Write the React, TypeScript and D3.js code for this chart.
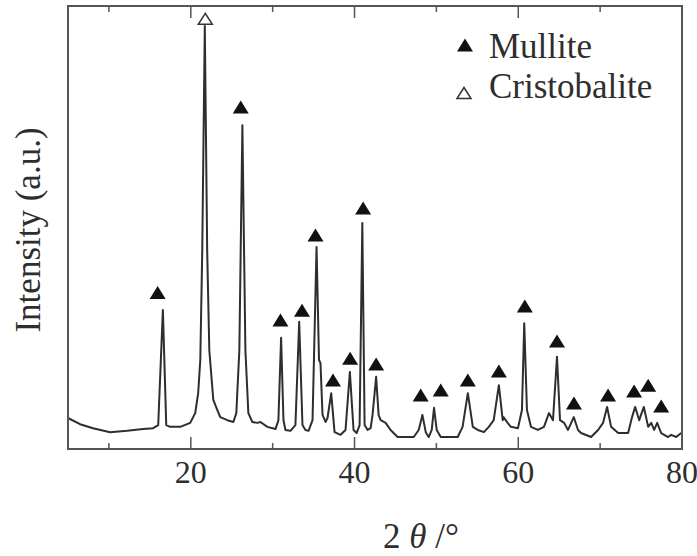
import React from "react";
import * as d3 from "d3";

// 2θ (degrees) of the pattern's vertices
const twoTheta = [
  5.0, 6.47, 8.06, 10.14, 12.22, 14.18, 15.4, 16.02, 16.59, 17.0, 17.48, 18.71, 19.93,
  20.54, 20.9, 21.16, 21.4, 21.71, 22.0, 22.26, 22.75, 23.24, 23.6, 24.46, 25.2, 25.56,
  25.93, 26.3, 26.67, 27.03, 27.52, 28.13, 28.5, 29.36, 30.34, 30.7, 31.03, 31.32, 31.56,
  32.17, 32.78, 33.24, 33.64, 34.0, 34.38, 34.87, 35.36, 35.66, 35.84, 36.09, 36.46, 36.7,
  37.15, 37.56, 38.29, 38.9, 39.43, 39.88, 40.25, 40.62, 40.95, 41.23, 41.6, 41.97, 42.2,
  42.64, 42.94, 43.19, 43.8, 44.4, 45.27, 47.23, 47.84, 48.29, 48.7, 49.06, 49.43, 49.71,
  50.04, 50.53, 52.6, 53.2, 53.84, 54.45, 55.06, 55.8, 56.4, 57.0, 57.63, 58.1, 58.2, 58.7,
  59.1, 59.96, 60.45, 60.73, 61.06, 61.55, 62.4, 63.14, 63.75, 64.24, 64.73, 65.1, 65.6,
  66.08, 66.78, 67.3, 67.67, 68.89, 69.75, 70.36, 70.85, 71.34, 72.2, 73.42, 73.9, 74.28,
  74.77, 75.34, 75.87, 76.24, 76.6, 76.97, 77.46, 78.3, 78.68, 79.3, 79.9,
];
// intensity (a.u.) at each vertex
const intensity = [
  70, 56, 47, 38, 41, 45, 47, 54, 314, 54, 50, 50, 59,
  81, 126, 201, 449, 955, 449, 223, 111, 88, 72, 65, 61, 81,
  223, 731, 223, 81, 61, 59, 61, 50, 45, 65, 251, 65, 43,
  41, 54, 287, 54, 43, 41, 65, 456, 201, 194, 77, 61, 70,
  126, 38, 32, 43, 174, 43, 36, 54, 510, 54, 43, 47, 77,
  163, 77, 65, 59, 43, 27, 27, 43, 77, 38, 27, 43, 93,
  43, 27, 27, 50, 126, 50, 43, 38, 50, 65, 144, 65, 72, 59,
  50, 47, 88, 284, 88, 50, 43, 50, 81, 65, 208, 65, 59,
  43, 72, 43, 36, 27, 43, 59, 95, 50, 36, 36, 72, 95,
  65, 95, 50, 59, 43, 59, 36, 27, 32, 27, 36,
];

// phase markers
const mulliteX = [15.95, 26.1, 30.95, 33.58, 35.23, 37.37, 39.46, 41.05, 42.64, 48.08, 50.53, 53.84, 57.63, 60.8, 64.73, 66.8, 70.97, 74.15, 75.87, 77.46];
const mulliteY = [353, 772, 291, 313, 483, 156, 205, 544, 192, 122, 133, 156, 176, 323, 244, 104, 122, 131, 144, 97];
const cristobaliteX = [21.77];
const cristobaliteY = [971];

const majorTicks = [20, 40, 60, 80];
const minorTicks = [10, 30, 50, 70];
const legendLabels = ["Mullite", "Cristobalite"];
const xTitle = "2 θ /°";
const yTitle = "Intensity (a.u.)";

const W = 697;
const H = 556;
const L = 68, R = 682, T = 6, B = 449;

const x = d3.scaleLinear().domain([5, 80]).range([L, R]);
const y = d3.scaleLinear().domain([0, 1000]).range([B, T]);

const FONT = "'Liberation Serif', 'Times New Roman', serif";
const INK = "#2e2e2e";

function tri(cx: number, cy: number, w: number, h: number) {
  return `M${cx - w / 2},${cy + h / 2}L${cx + w / 2},${cy + h / 2}L${cx},${cy - h / 2}Z`;
}

export default function App() {
  const pts = twoTheta.map((t, i) => [t, intensity[i]] as [number, number]);
  const line = d3.line<[number, number]>().x((d) => x(d[0])).y((d) => y(d[1]));
  return (
    <svg width={W} height={H} style={{ position: "absolute", left: 0, top: 0, background: "#fff" }}>
      <rect x={0} y={0} width={W} height={H} fill="#fff" />
      <path d={line(pts) || ""} fill="none" stroke={INK} strokeWidth={2} strokeLinejoin="round" />
      {/* frame */}
      <rect x={L} y={T} width={R - L} height={B - T} fill="none" stroke="#555" strokeWidth={2} />
      {majorTicks.map((t) => (
        <g key={"M" + t}>
          <line x1={x(t)} x2={x(t)} y1={B} y2={B - 12} stroke="#555" strokeWidth={1.5} />
          <line x1={x(t)} x2={x(t)} y1={T} y2={T + 12} stroke="#555" strokeWidth={1.5} />
          <text x={x(t)} y={483} textAnchor="middle" fontFamily={FONT} fontSize={32} fill={INK}>
            {t}
          </text>
        </g>
      ))}
      {minorTicks.map((t) => (
        <g key={"m" + t}>
          <line x1={x(t)} x2={x(t)} y1={B} y2={B - 6} stroke="#555" strokeWidth={1.5} />
          <line x1={x(t)} x2={x(t)} y1={T} y2={T + 6} stroke="#555" strokeWidth={1.5} />
        </g>
      ))}
      {/* markers */}
      {mulliteX.map((t, i) => (
        <path key={"mu" + i} d={tri(x(t), y(mulliteY[i]), 16, 13)} fill="#111" />
      ))}
      {cristobaliteX.map((t, i) => (
        <path key={"cr" + i} d={tri(x(t), y(cristobaliteY[i]), 14, 11)} fill="#fff" stroke="#333" strokeWidth={1.5} />
      ))}
      {/* legend */}
      <path d={tri(465, 45, 16, 13)} fill="#111" />
      <path d={tri(464, 93, 14, 11)} fill="#fff" stroke="#333" strokeWidth={1.5} />
      <text x={489} y={58} fontFamily={FONT} fontSize={35} fill={INK}>{legendLabels[0]}</text>
      <text x={489} y={98} fontFamily={FONT} fontSize={35} fill={INK}>{legendLabels[1]}</text>
      {/* axis titles */}
      <text x={421} y={548} textAnchor="middle" fontFamily={FONT} fontSize={35} fill={INK}>
        <tspan>2 </tspan>
        <tspan fontStyle="italic">θ</tspan>
        <tspan> /°</tspan>
      </text>
      <text
        transform={`translate(40,230) rotate(-90)`}
        textAnchor="middle"
        fontFamily={FONT}
        fontSize={35}
        fill={INK}
      >
        {yTitle}
      </text>
    </svg>
  );
}
